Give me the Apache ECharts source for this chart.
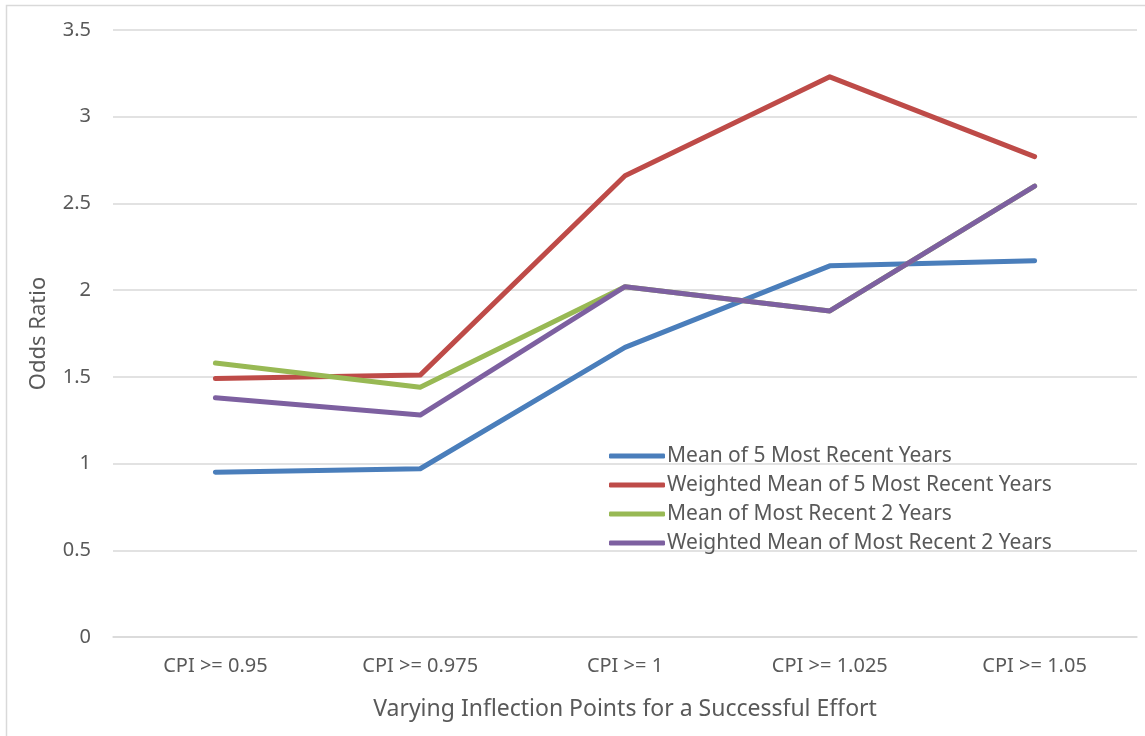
<!DOCTYPE html>
<html>
<head>
<meta charset="utf-8">
<script src="https://cdn.jsdelivr.net/npm/echarts@6/dist/echarts.min.js"></script>
<style>
  html, body { margin: 0; padding: 0; background: #ffffff; }
  #chart { width: 1145px; height: 736px; }
</style>
</head>
<body>
<div id="chart"></div>
<script>
// Inflection-point thresholds on the category axis
const categories = ['CPI >= 0.95', 'CPI >= 0.975', 'CPI >= 1', 'CPI >= 1.025', 'CPI >= 1.05'];

// Odds ratios per averaging method
const meanFiveYears = [0.95, 0.97, 1.67, 2.14, 2.17];
const weightedMeanFiveYears = [1.49, 1.51, 2.66, 3.23, 2.77];
const meanTwoYears = [1.58, 1.44, 2.02, 1.88, 2.60];
const weightedMeanTwoYears = [1.38, 1.28, 2.02, 1.88, 2.60];

const seriesNames = [
  'Mean of 5 Most Recent Years',
  'Weighted Mean of 5 Most Recent Years',
  'Mean of Most Recent 2 Years',
  'Weighted Mean of Most Recent 2 Years'
];
const seriesData = [meanFiveYears, weightedMeanFiveYears, meanTwoYears, weightedMeanTwoYears];
const colors = ['#4a7ebb', '#be4b48', '#98b954', '#7d60a0'];

const FONT = '"Noto Sans", "Open Sans", sans-serif';
const TEXT = '#595959';

const chart = echarts.init(document.getElementById('chart'), null, { renderer: 'canvas' });

chart.setOption({
  animation: false,
  backgroundColor: '#ffffff',
  color: colors,
  graphic: [{
    type: 'rect',
    z: -10,
    shape: { x: 6.5, y: 5.5, width: 1150, height: 740 },
    style: { fill: 'none', stroke: '#d9d9d9', lineWidth: 1.5 }
  }],
  grid: { left: 113, right: 8, top: 30, bottom: 99, containLabel: false },
  legend: {
    orient: 'vertical',
    left: 604,
    top: 440,
    itemWidth: 56,
    itemHeight: 5,
    itemGap: 7,
    icon: 'roundRect',
    data: seriesNames,
    textStyle: { color: TEXT, fontFamily: FONT, fontSize: 21, lineHeight: 22, padding: [0, 0, 0, -3] }
  },
  xAxis: {
    type: 'category',
    data: categories,
    boundaryGap: true,
    axisLine: { show: true, lineStyle: { color: '#d9d9d9', width: 1.5 } },
    axisTick: { show: false },
    axisLabel: { color: TEXT, fontFamily: FONT, fontSize: 20, margin: 19 },
    name: 'Varying Inflection Points for a Successful Effort',
    nameLocation: 'middle',
    nameGap: 61,
    nameTextStyle: { color: TEXT, fontFamily: FONT, fontSize: 23 }
  },
  yAxis: {
    type: 'value',
    min: 0,
    max: 3.5,
    interval: 0.5,
    axisLine: { show: false },
    axisTick: { show: false },
    splitLine: { lineStyle: { color: '#d9d9d9', width: 1.5 } },
    axisLabel: { color: TEXT, fontFamily: FONT, fontSize: 20, margin: 22 },
    name: 'Odds Ratio',
    nameLocation: 'middle',
    nameGap: 63,
    nameRotate: 90,
    nameTextStyle: { color: TEXT, fontFamily: FONT, fontSize: 22 }
  },
  series: seriesNames.map((name, i) => ({
    name,
    type: 'line',
    data: seriesData[i],
    symbol: 'none',
    lineStyle: { width: 5, cap: 'round', join: 'round', color: colors[i] },
    itemStyle: { color: colors[i] }
  }))
});
</script>
</body>
</html>
